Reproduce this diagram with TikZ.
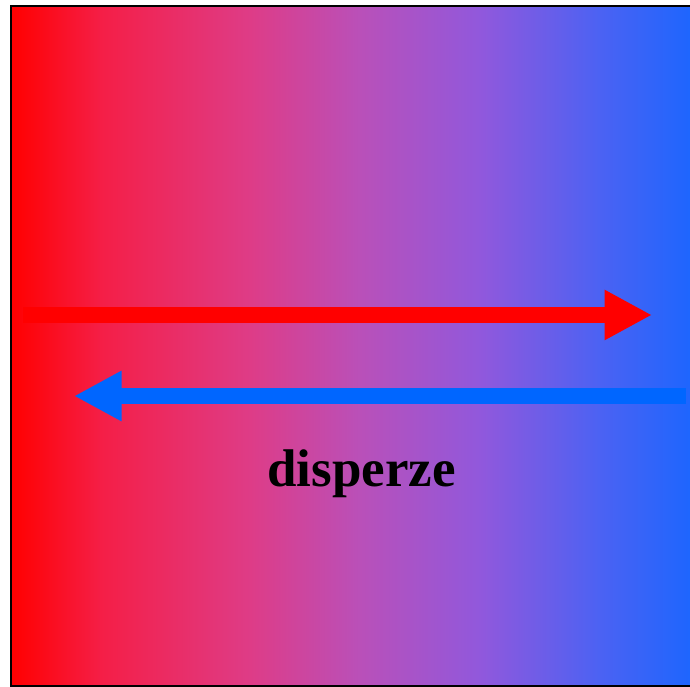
\documentclass[tikz,border=0pt]{standalone}
\usepackage{fontspec}
\setmainfont{Liberation Serif}
\usetikzlibrary{arrows.meta}
\definecolor{lred}{RGB}{255,0,0}
\definecolor{ga}{RGB}{255,0,0}
\definecolor{gb}{RGB}{245,30,70}
\definecolor{gc}{RGB}{222,60,135}
\definecolor{gd}{RGB}{185,80,185}
\definecolor{ge}{RGB}{145,88,220}
\definecolor{gf}{RGB}{75,98,243}
\definecolor{gg}{RGB}{25,102,255}
\definecolor{arblue}{RGB}{0,102,255}
\tikzset{
  bigarrow/.style={line width=16pt, line cap=butt, -{Triangle[length=47.5pt,width=47pt]}},
  lbl/.style={font=\fontsize{53}{62}\selectfont\bfseries, inner sep=0pt, anchor=base},
  seg/.style={draw=none}
}
\begin{document}
\begin{tikzpicture}[x=1pt,y=1pt]
\useasboundingbox (0,0) rectangle (690,686);
\shade[seg, left color=ga, right color=gb] (11,0.5) rectangle (100.5,680);
\shade[seg, left color=gb, right color=gc] (100,0.5) rectangle (250.5,680);
\shade[seg, left color=gc, right color=gd] (250,0.5) rectangle (360.5,680);
\shade[seg, left color=gd, right color=ge] (360,0.5) rectangle (480.5,680);
\shade[seg, left color=ge, right color=gf] (480,0.5) rectangle (600.5,680);
\shade[seg, left color=gf, right color=gg] (600,0.5) rectangle (700,680);
\draw[line width=2pt, black] (700,680) -- (11,680) -- (11,0.5) -- (700,0.5);
\coordinate (rs) at (23,371);
\coordinate (re) at (652,371);
\coordinate (bs) at (686,290);
\coordinate (be) at (74,290);
\draw[bigarrow, lred] (rs) -- (re);
\draw[bigarrow, arblue] (bs) -- (be);
\node[lbl] (t) at (361.5,199.3) {disperze};
\end{tikzpicture}
\end{document}
